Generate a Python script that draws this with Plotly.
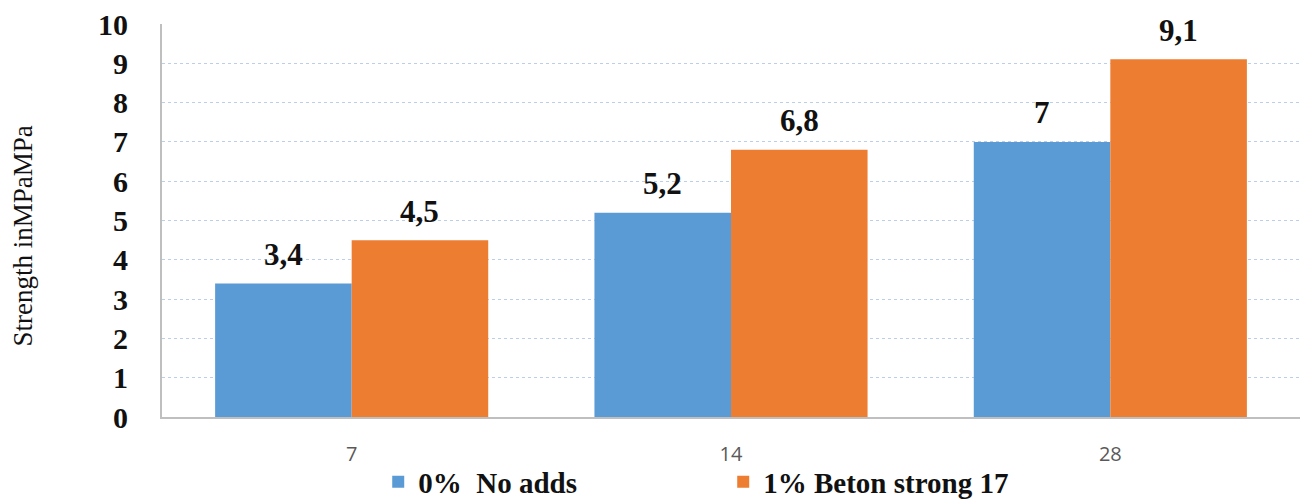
import plotly.graph_objects as go

# Curing age (days) and compressive strength values
ages = ["7", "14", "28"]
no_adds = [3.4, 5.2, 7.0]
beton_strong = [4.5, 6.8, 9.1]

series_names = ["0%  No adds", "1% Beton strong 17"]
series_colors = ["#5b9bd5", "#ed7d31"]

BAR_GAP = 0.28
SERIF = "Liberation Serif, Times New Roman, serif"


def fmt(v):
    s = f"{v:g}"
    return s.replace(".", ",")


fig = go.Figure()
for name, vals, col in zip(series_names, [no_adds, beton_strong], series_colors):
    fig.add_trace(go.Bar(x=ages, y=vals, name=name, marker=dict(color=col, line=dict(width=0))))

# value labels above each bar
half = (1 - BAR_GAP) / 2
annotations = []
for k, vals in enumerate([no_adds, beton_strong]):
    off = -half / 2 if k == 0 else half / 2
    for i, v in enumerate(vals):
        annotations.append(dict(
            x=i + off, y=v, xref="x", yref="y", text=f"<b>{fmt(v)}</b>",
            showarrow=False, yshift=29, yanchor="middle",
            font=dict(family=SERIF, size=31, color="#111111"),
        ))

# rotated axis title
annotations.append(dict(
    x=0, y=0.5, xref="paper", yref="paper", xshift=-140, yshift=-16,
    text="Strength inMPaMPa", textangle=-90, showarrow=False,
    xanchor="center", yanchor="middle",
    font=dict(family=SERIF, size=27, color="#111111"),
))

fig.update_layout(
    width=1300, height=500,
    margin=dict(l=162, r=0, t=24, b=83, autoexpand=False),
    paper_bgcolor="white", plot_bgcolor="white",
    barmode="group", bargap=BAR_GAP, bargroupgap=0,
    showlegend=True,
    legend=dict(
        orientation="h", x=0.19, y=-0.165, xanchor="left", yanchor="middle",
        font=dict(family=SERIF, size=29, color="#111111", weight="bold"),
        entrywidth=300, entrywidthmode="pixels", itemwidth=30,
        bgcolor="rgba(0,0,0,0)",
    ),
    annotations=annotations,
    font=dict(family=SERIF),
)

fig.update_xaxes(
    type="category", showgrid=False, showline=True, linecolor="#bfbfbf", linewidth=2,
    ticks="", ticklabelstandoff=18,
    tickfont=dict(family="Open Sans, Liberation Sans, sans-serif", size=20, color="#595959"),
)
fig.update_yaxes(
    range=[0, 10], dtick=1, showgrid=True, gridcolor="#bccfe8", griddash="dot", gridwidth=1,
    zeroline=False, showline=True, linecolor="#bfbfbf", linewidth=2,
    ticks="", ticklabelstandoff=26,
    tickfont=dict(family=SERIF, size=30, color="#111111", weight="bold"),
)

fig.write_html("out.html")
